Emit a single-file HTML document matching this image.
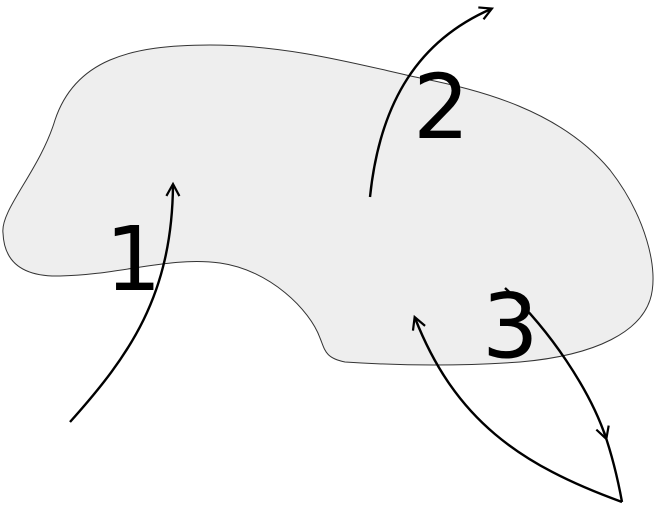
<!DOCTYPE html>
<html><head><style>html,body{margin:0;padding:0;background:#fff;}svg{display:block}</style></head>
<body>
<svg width="657" height="512" viewBox="0 0 657 512" xmlns="http://www.w3.org/2000/svg">
<defs>
<marker id="a" markerWidth="16" markerHeight="16" refX="12" refY="8" orient="auto" markerUnits="userSpaceOnUse">
<path d="M1,1.5 L13,8 L1,14.5" fill="none" stroke="#000" stroke-width="2.2"/>
</marker>
</defs>
<path d="M3,233 C0,210 40,170 55,120 C75,60 130,45 210,45 C290,45 360,65 420,78 C480,90 560,110 610,170 C645,215 660,270 650,300 C640,330 600,355 520,362 C450,367 390,365 345,362 C325,358 325,350 320,338 C310,310 270,270 220,263 C170,256 120,275 60,276 C20,277 4,260 3,233 Z" fill="#eeeeee" stroke="#333" stroke-width="1"/>
<g font-family="'DejaVu Sans','Liberation Sans',sans-serif" font-size="89" fill="#000">
<text x="105" y="290">1</text>
<text x="413" y="138">2</text>
<text x="482" y="357">3</text>
</g>
<g fill="none" stroke="#000" stroke-width="2.4">
<path d="M70,422 C130,355 172,295 173,185" marker-end="url(#a)"/>
<path d="M370,197 C380,100 420,40 491,9" marker-end="url(#a)"/>
<path d="M505,288 C550,330 590,390 606,438" marker-end="url(#a)"/>
<path d="M604,432 C612,455 618,480 622,502"/>
<path d="M622,502 C520,465 455,420 415,318" marker-end="url(#a)"/>
</g>
</svg>
</body></html>
